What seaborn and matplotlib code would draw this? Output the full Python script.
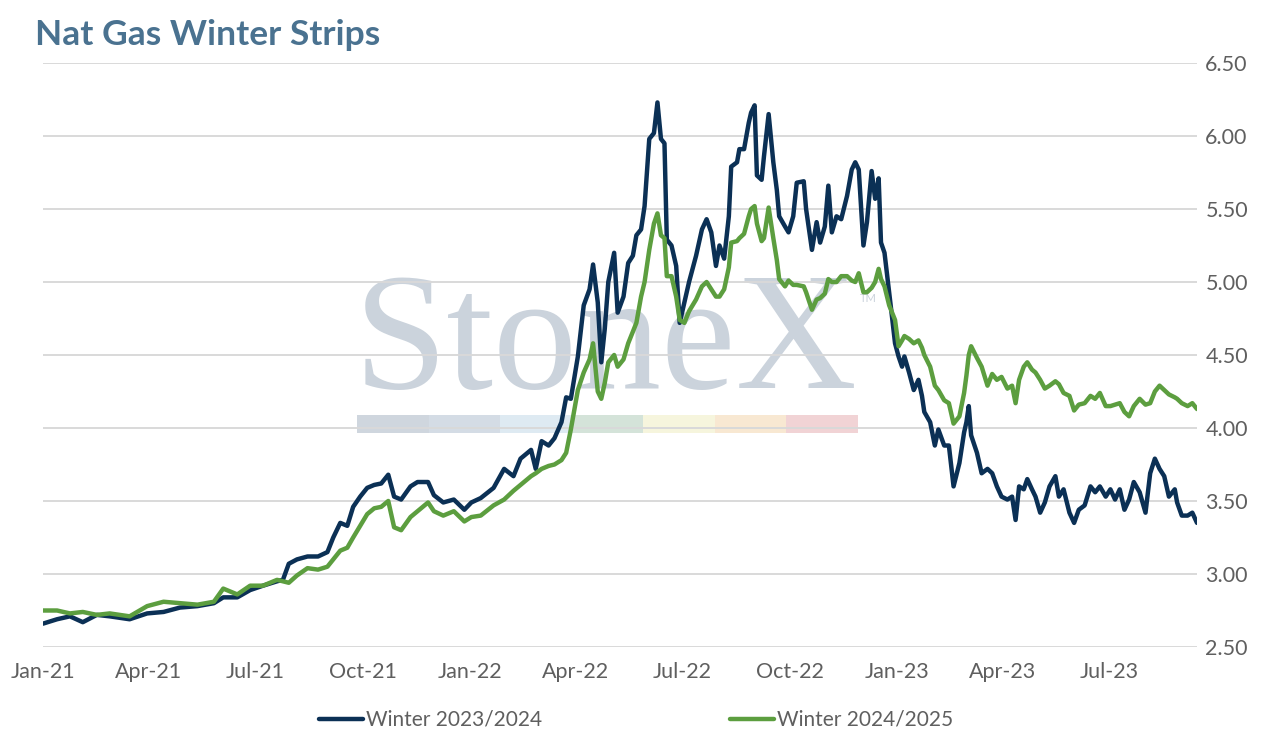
import matplotlib
matplotlib.use('Agg')
import matplotlib.pyplot as plt
import pandas as pd
import seaborn as sns
from matplotlib.patches import Rectangle

# observation dates shared by both strips
dates = [
    '2021-01-01', '2021-01-13', '2021-01-24', '2021-02-04', '2021-02-16', '2021-02-27',
    '2021-03-16', '2021-03-31', '2021-04-14', '2021-04-28', '2021-05-13', '2021-05-27',
    '2021-06-04', '2021-06-16', '2021-06-27', '2021-07-08', '2021-07-20', '2021-07-25',
    '2021-07-30', '2021-08-06', '2021-08-15', '2021-08-24', '2021-09-01', '2021-09-06',
    '2021-09-12', '2021-09-18', '2021-09-23', '2021-09-29', '2021-10-05', '2021-10-11',
    '2021-10-17', '2021-10-23', '2021-10-28', '2021-11-03', '2021-11-11', '2021-11-17',
    '2021-11-26', '2021-12-01', '2021-12-09', '2021-12-18', '2021-12-27', '2022-01-02',
    '2022-01-10', '2022-01-21', '2022-01-30', '2022-02-07', '2022-02-13', '2022-02-22',
    '2022-02-26', '2022-03-03', '2022-03-09', '2022-03-14', '2022-03-20', '2022-03-24',
    '2022-03-28', '2022-04-03', '2022-04-08', '2022-04-13', '2022-04-16', '2022-04-20',
    '2022-04-23', '2022-04-26', '2022-04-29', '2022-05-04', '2022-05-07', '2022-05-12',
    '2022-05-16', '2022-05-20', '2022-05-23', '2022-05-27', '2022-05-30', '2022-06-03',
    '2022-06-07', '2022-06-10', '2022-06-13', '2022-06-16', '2022-06-18', '2022-06-22',
    '2022-06-26', '2022-06-29', '2022-07-03', '2022-07-07', '2022-07-13', '2022-07-18',
    '2022-07-22', '2022-07-26', '2022-07-30', '2022-08-02', '2022-08-06', '2022-08-10',
    '2022-08-12', '2022-08-17', '2022-08-19', '2022-08-23', '2022-08-27', '2022-08-29',
    '2022-09-01', '2022-09-03', '2022-09-07', '2022-09-09', '2022-09-13', '2022-09-17',
    '2022-09-20', '2022-09-22', '2022-09-27', '2022-09-30', '2022-10-04', '2022-10-07',
    '2022-10-13', '2022-10-15', '2022-10-20', '2022-10-24', '2022-10-27', '2022-10-31',
    '2022-11-03', '2022-11-06', '2022-11-10', '2022-11-14', '2022-11-19', '2022-11-23',
    '2022-11-26', '2022-11-29', '2022-12-03', '2022-12-06', '2022-12-10', '2022-12-13',
    '2022-12-16', '2022-12-18', '2022-12-21', '2022-12-25', '2022-12-27', '2022-12-30',
    '2023-01-02', '2023-01-05', '2023-01-07', '2023-01-11', '2023-01-15', '2023-01-19',
    '2023-01-22', '2023-01-24', '2023-01-29', '2023-02-02', '2023-02-05', '2023-02-10',
    '2023-02-14', '2023-02-18', '2023-02-23', '2023-02-27', '2023-03-01', '2023-03-03',
    '2023-03-05', '2023-03-10', '2023-03-14', '2023-03-19', '2023-03-23', '2023-03-27',
    '2023-03-31', '2023-04-05', '2023-04-09', '2023-04-12', '2023-04-15', '2023-04-19',
    '2023-04-22', '2023-04-26', '2023-04-29', '2023-05-03', '2023-05-07', '2023-05-11',
    '2023-05-16', '2023-05-19', '2023-05-23', '2023-05-28', '2023-06-01', '2023-06-05',
    '2023-06-10', '2023-06-15', '2023-06-19', '2023-06-23', '2023-06-28', '2023-07-02',
    '2023-07-06', '2023-07-10', '2023-07-14', '2023-07-18', '2023-07-22', '2023-07-27',
    '2023-08-01', '2023-08-05', '2023-08-09', '2023-08-13', '2023-08-17', '2023-08-21',
    '2023-08-26', '2023-08-28', '2023-09-01', '2023-09-06', '2023-09-10', '2023-09-14',
]

winter_2324 = [
    2.66, 2.69, 2.71, 2.67, 2.72, 2.71,
    2.69, 2.73, 2.74, 2.77, 2.78, 2.80,
    2.84, 2.84, 2.89, 2.92, 2.95, 2.96,
    3.07, 3.10, 3.12, 3.12, 3.15, 3.25,
    3.35, 3.33, 3.46, 3.53, 3.59, 3.61,
    3.62, 3.68, 3.53, 3.51, 3.60, 3.63,
    3.63, 3.54, 3.49, 3.51, 3.44, 3.49,
    3.52, 3.59, 3.72, 3.67, 3.79, 3.85,
    3.72, 3.91, 3.88, 3.93, 4.04, 4.21,
    4.20, 4.49, 4.84, 4.95, 5.12, 4.86,
    4.45, 4.68, 5.00, 5.20, 4.79, 4.90,
    5.13, 5.18, 5.32, 5.36, 5.52, 5.98,
    6.02, 6.23, 5.98, 5.95, 5.29, 5.25,
    5.11, 4.72, 4.86, 5.00, 5.18, 5.36,
    5.43, 5.34, 5.11, 5.25, 5.16, 5.45,
    5.79, 5.82, 5.91, 5.91, 6.09, 6.16,
    6.21, 5.73, 5.70, 5.86, 6.15, 5.82,
    5.63, 5.45, 5.38, 5.34, 5.45, 5.68,
    5.69, 5.50, 5.22, 5.41, 5.27, 5.38,
    5.66, 5.34, 5.45, 5.43, 5.59, 5.77,
    5.82, 5.77, 5.25, 5.41, 5.76, 5.57,
    5.71, 5.27, 5.20, 4.93, 4.79, 4.58,
    4.49, 4.42, 4.49, 4.38, 4.26, 4.33,
    4.22, 4.11, 4.04, 3.88, 3.99, 3.88,
    3.88, 3.60, 3.76, 3.97, 4.04, 4.15,
    3.95, 3.83, 3.69, 3.72, 3.69, 3.60,
    3.53, 3.51, 3.53, 3.37, 3.60, 3.58,
    3.65, 3.58, 3.53, 3.42, 3.49, 3.60,
    3.67, 3.53, 3.58, 3.42, 3.35, 3.44,
    3.47, 3.60, 3.56, 3.60, 3.53, 3.58,
    3.51, 3.58, 3.44, 3.51, 3.63, 3.56,
    3.42, 3.69, 3.79, 3.72, 3.67, 3.53,
    3.58, 3.49, 3.40, 3.40, 3.42, 3.35,
]

winter_2425 = [
    2.75, 2.75, 2.73, 2.74, 2.72, 2.73,
    2.71, 2.78, 2.81, 2.80, 2.79, 2.81,
    2.90, 2.86, 2.92, 2.92, 2.96, 2.95,
    2.94, 2.99, 3.04, 3.03, 3.05, 3.10,
    3.16, 3.18, 3.25, 3.33, 3.41, 3.45,
    3.46, 3.50, 3.32, 3.30, 3.39, 3.43,
    3.49, 3.43, 3.40, 3.43, 3.36, 3.39,
    3.40, 3.47, 3.51, 3.57, 3.61, 3.67,
    3.69, 3.72, 3.74, 3.75, 3.78, 3.83,
    3.99, 4.26, 4.38, 4.47, 4.58, 4.25,
    4.20, 4.31, 4.45, 4.50, 4.42, 4.47,
    4.58, 4.66, 4.72, 4.90, 5.00, 5.22,
    5.40, 5.47, 5.32, 5.30, 5.04, 5.04,
    4.90, 4.74, 4.72, 4.80, 4.88, 4.97,
    5.00, 4.95, 4.90, 4.90, 4.95, 5.10,
    5.27, 5.28, 5.30, 5.33, 5.45, 5.50,
    5.52, 5.40, 5.28, 5.30, 5.51, 5.30,
    5.15, 5.02, 4.97, 5.01, 4.98, 4.98,
    4.97, 4.93, 4.81, 4.88, 4.89, 4.92,
    5.02, 5.00, 5.00, 5.04, 5.04, 5.01,
    5.00, 5.06, 4.93, 4.93, 4.96, 5.00,
    5.09, 5.02, 4.97, 4.84, 4.80, 4.74,
    4.56, 4.60, 4.63, 4.61, 4.58, 4.60,
    4.55, 4.50, 4.42, 4.29, 4.26, 4.19,
    4.17, 4.03, 4.08, 4.24, 4.36, 4.50,
    4.56, 4.48, 4.42, 4.29, 4.37, 4.33,
    4.35, 4.27, 4.29, 4.17, 4.33, 4.42,
    4.45, 4.40, 4.38, 4.33, 4.27, 4.29,
    4.32, 4.30, 4.24, 4.22, 4.12, 4.16,
    4.17, 4.22, 4.20, 4.24, 4.15, 4.15,
    4.16, 4.17, 4.11, 4.08, 4.15, 4.20,
    4.16, 4.17, 4.25, 4.29, 4.26, 4.23,
    4.21, 4.20, 4.17, 4.15, 4.17, 4.13,
]

series_names = ['Winter 2023/2024', 'Winter 2024/2025']
series_colors = ['#0b3055', '#5c9e3f']

tick_dates = ['2021-01-01', '2021-04-01', '2021-07-01', '2021-10-01', '2022-01-01',
              '2022-04-01', '2022-07-01', '2022-10-01', '2023-01-01', '2023-04-01',
              '2023-07-01']
tick_labels = ['Jan-21', 'Apr-21', 'Jul-21', 'Oct-21', 'Jan-22', 'Apr-22', 'Jul-22',
               'Oct-22', 'Jan-23', 'Apr-23', 'Jul-23']
y_ticks = [2.5, 3.0, 3.5, 4.0, 4.5, 5.0, 5.5, 6.0, 6.5]

# watermark colour strip
strip_colors = ['#cfd6de', '#d4dce5', '#deeaf2', '#d4e3d9', '#f6f5dd', '#f8e8d2', '#f1d3d5']

df = pd.DataFrame({
    'date': pd.to_datetime(dates),
    series_names[0]: winter_2324,
    series_names[1]: winter_2425,
})
long = df.melt(id_vars='date', var_name='series', value_name='price')

sns.set_style('white')
plt.rcParams['font.family'] = ['Lato', 'DejaVu Sans']

W, H = 1272, 743
fig = plt.figure(figsize=(W / 100, H / 100), dpi=100)
ax = fig.add_axes([43 / W, 1 - 647 / H, (1197 - 43) / W, (647 - 63) / H])

# StoneX watermark behind the data
ax.text(354 / W, 1 - 388 / H, 'StoneX', transform=fig.transFigure,
        family='Liberation Serif', fontsize=121, color='#cbd3dc',
        va='baseline', ha='left', zorder=0.1)
ax.text(860 / W, 1 - 302 / H, 'TM', transform=fig.transFigure,
        fontsize=8, color='#cbd3dc', va='baseline', ha='left', zorder=0.1)
seg = (858 - 357) / len(strip_colors)
for i, c in enumerate(strip_colors):
    ax.add_patch(Rectangle(((357 + i * seg) / W, 1 - 433 / H), seg / W, 18 / H,
                           transform=fig.transFigure, facecolor=c, edgecolor='none',
                           zorder=0.1, clip_on=False))

sns.lineplot(data=long, x='date', y='price', hue='series', hue_order=series_names,
             palette=dict(zip(series_names, series_colors)), estimator=None,
             linewidth=3.2, ax=ax)

ax.set_xlim(df['date'].min(), df['date'].max())
ax.set_ylim(2.5, 6.5)
ax.set_xticks(pd.to_datetime(tick_dates))
ax.set_xticklabels(tick_labels)
ax.set_yticks(y_ticks)
ax.set_yticklabels([f'{v:.2f}' for v in y_ticks])
ax.yaxis.tick_right()
ax.set_xlabel('')
ax.set_ylabel('')

ax.patch.set_alpha(0)
ax.set_axisbelow(True)
ax.yaxis.grid(True, color='#d9d9d9', linewidth=1.4, zorder=0.5)
ax.xaxis.grid(False)
sns.despine(ax=ax, left=True, bottom=True, right=True, top=True)
ax.tick_params(axis='x', length=0, pad=11, labelsize=15.5, labelcolor='#5f5f5f')
ax.tick_params(axis='y', length=0, pad=6, labelsize=15.5, labelcolor='#5f5f5f')

handles, labels = ax.get_legend_handles_labels()
ax.get_legend().remove()
fig.legend(handles, labels, loc='center', bbox_to_anchor=(636 / W, 1 - 720 / H),
           ncol=2, frameon=False, fontsize=15, labelcolor='#5f5f5f',
           handlelength=2.1, handletextpad=0.15, columnspacing=9.0)

fig.text(35 / W, 1 - 45 / H, 'Nat Gas Winter Strips', fontsize=25.5,
         fontweight='bold', color='#4a7290', va='baseline', ha='left')

fig.savefig('out.png', dpi=100)
